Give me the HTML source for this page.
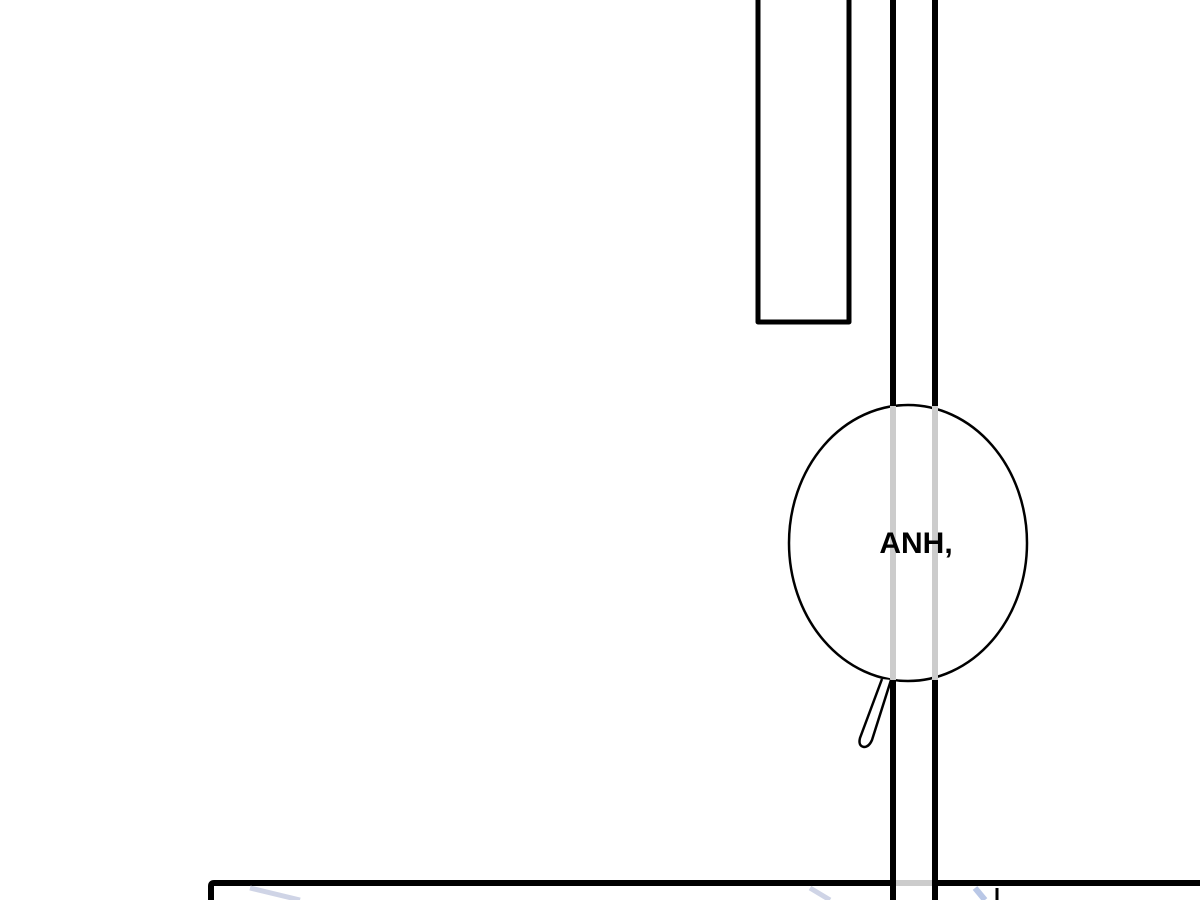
<!DOCTYPE html>
<html><head><style>
html,body{margin:0;padding:0;background:#fff;}
body{width:1200px;height:900px;overflow:hidden;position:relative;}
svg{position:absolute;left:0;top:0;}
</style></head><body>
<svg width="1200" height="900" viewBox="0 0 1200 900">
<rect x="0" y="0" width="1200" height="900" fill="#fff"/>
<path d="M758 -5 V322 H849 V-5" fill="none" stroke="#000" stroke-width="5" stroke-linejoin="round"/>
<line x1="893" y1="0" x2="893" y2="900" stroke="#000" stroke-width="6"/>
<line x1="935" y1="0" x2="935" y2="900" stroke="#000" stroke-width="6"/>
<path d="M211 900 V886 Q211 883 214 883 H1200" fill="none" stroke="#000" stroke-width="6"/>
<line x1="896" y1="883" x2="932" y2="883" stroke="#ccc" stroke-width="6"/>
<path d="M250 888 L300 900" stroke="#cfd4e6" stroke-width="5"/>
<path d="M810 888 L830 900" stroke="#cfd4e6" stroke-width="5"/>
<path d="M975 888 L985 900" stroke="#b9c7e6" stroke-width="6"/>
<path d="M997 888 L997 900" stroke="#000" stroke-width="3"/>
<ellipse cx="908" cy="543" rx="119" ry="138" fill="#fff" stroke="#000" stroke-width="2.5"/>
<line x1="893" y1="406" x2="893" y2="680" stroke="#cccccc" stroke-width="6"/>
<line x1="935" y1="406" x2="935" y2="680" stroke="#cccccc" stroke-width="6"/>
<path d="M882 679 L860 738 Q858 746 864 747 Q869 747 872 740 L891 680" fill="#fff" stroke="#000" stroke-width="2.5" stroke-linejoin="round"/>
<text x="916" y="553" text-anchor="middle" font-family="Liberation Sans, sans-serif" font-weight="bold" font-size="30" fill="#000">ANH,</text>
</svg>
</body></html>
